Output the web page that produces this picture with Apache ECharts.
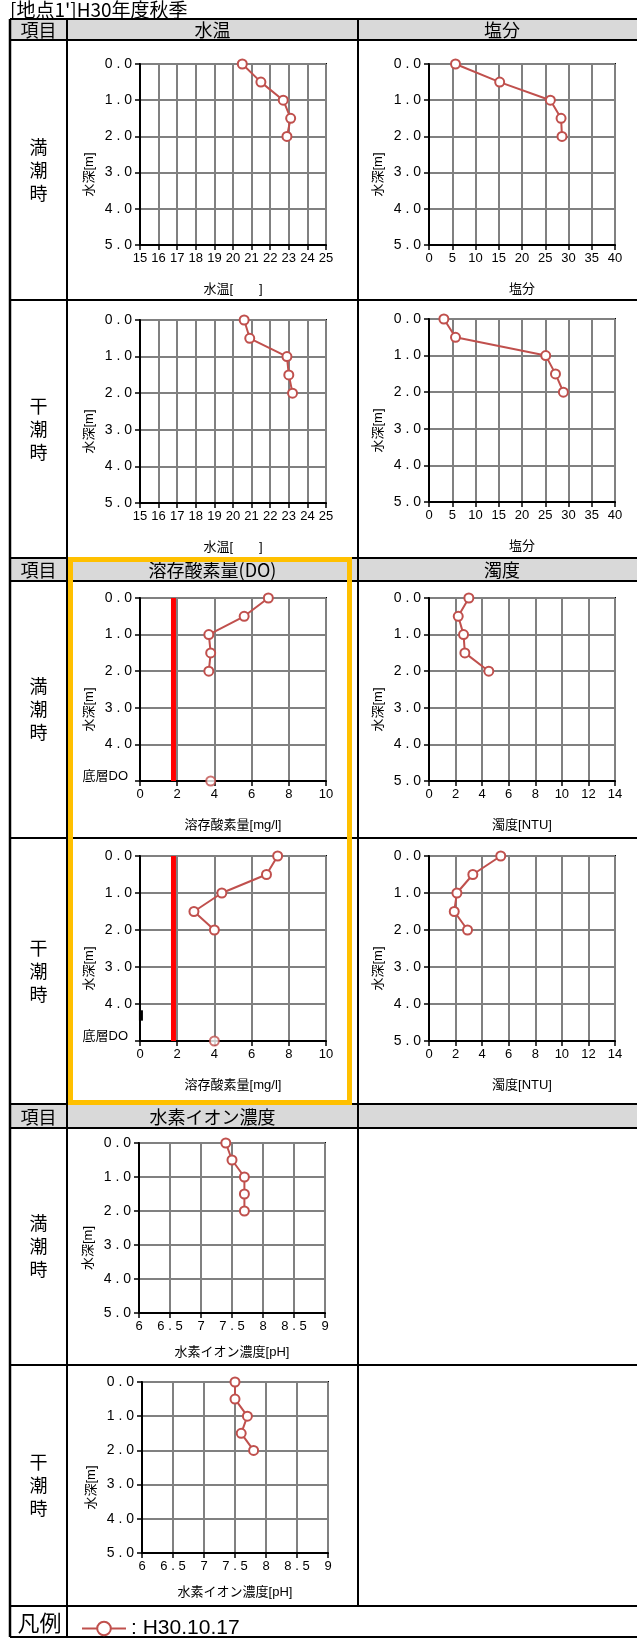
<!DOCTYPE html>
<html>
<head>
<meta charset="utf-8">
<script src="https://cdn.jsdelivr.net/npm/echarts@6/dist/echarts.min.js"></script>
<style>
html, body { margin: 0; padding: 0; background: #fff; }
#chart { width: 637px; height: 1644px; }
</style>
</head>
<body>
<div id="chart"></div>
<script>
// Depth profiles measured on H30.10.17 (autumn survey, station 1')
const depth = [0, 0.5, 1.0, 1.5, 2.0];
const tempHigh = [20.5, 21.5, 22.7, 23.1, 22.9];
const tempLow = [20.6, 20.9, 22.9, 23.0, 23.2];
const salHigh = [5.7, 15.2, 26.1, 28.4, 28.6];
const salLow = [3.2, 5.7, 25.1, 27.2, 28.9];
const doHigh = [6.9, 5.6, 3.7, 3.8, 3.7];
const doLow = [7.4, 6.8, 4.4, 2.9, 4.0];
const doBottomHigh = 3.8;
const doBottomLow = 4.0;
const doGuideValue = 1.8;
const turbHigh = [3.0, 2.2, 2.6, 2.7, 4.5];
const turbLow = [5.4, 3.3, 2.1, 1.9, 2.9];
const phHigh = [7.4, 7.5, 7.7, 7.7, 7.7];
const phLow = [7.5, 7.5, 7.7, 7.6, 7.8];
const bottomDepth = 5;
const axisStubDepth = [4.17, 4.45];
const surveyDate = 'H30.10.17';

const titleText = "[地点1']H30年度秋季";
const headerRows = [
  ['項目', '水温', '塩分'],
  ['項目', '溶存酸素量(DO)', '濁度'],
  ['項目', '水素イオン濃度', '']
];
const rowLabels = ['満\n潮\n時', '干\n潮\n時', '満\n潮\n時', '干\n潮\n時', '満\n潮\n時', '干\n潮\n時'];
const depthName = '水深[m]';

const FONT = "'Liberation Sans', 'Noto Sans CJK JP', sans-serif";
const JP = "'Noto Sans CJK JP', sans-serif";
const RED = '#C0504D';
const GRIDLINE = '#808080';

// Table geometry
const tbl = { left: 10, col1: 67, col2: 358, right: 646 };
const headerBands = [[19, 40], [558, 581], [1104, 1128]];
const rowBands = [[40, 300], [300, 558], [581, 838], [838, 1104], [1128, 1365], [1365, 1606]];
const legendBand = [1606, 1637];

const panels = [
  { box: [140, 64, 186, 181], x: [15, 25, 1], name: '水温[\u3000\u3000]', values: tempHigh },
  { box: [429, 64, 186, 181], x: [0, 40, 5], name: '塩分', values: salHigh },
  { box: [140, 320, 186, 183], x: [15, 25, 1], name: '水温[\u3000\u3000]', values: tempLow },
  { box: [429, 319, 186, 183], x: [0, 40, 5], name: '塩分', values: salLow },
  { box: [140, 598, 186, 183], x: [0, 10, 2], name: '溶存酸素量[mg/l]', values: doHigh, bottomDO: doBottomHigh },
  { box: [429, 598, 186, 183], x: [0, 14, 2], name: '濁度[NTU]', values: turbHigh },
  { box: [140, 856, 186, 185], x: [0, 10, 2], name: '溶存酸素量[mg/l]', values: doLow, bottomDO: doBottomLow, stub: true },
  { box: [429, 856, 186, 185], x: [0, 14, 2], name: '濁度[NTU]', values: turbLow },
  { box: [139, 1143, 186, 170], x: [6, 9, 0.5], name: '水素イオン濃度[pH]', values: phHigh, nameGap: 33 },
  { box: [142, 1382, 186, 171], x: [6, 9, 0.5], name: '水素イオン濃度[pH]', values: phLow, nameGap: 33 }
];

function spaced(s) { return s.indexOf('.') >= 0 ? s.split('').join(' ') : s; }

const grids = [], xAxes = [], yAxes = [], series = [];
panels.forEach((p, i) => {
  grids.push({
    left: p.box[0], top: p.box[1], width: p.box[2], height: p.box[3],
    show: true, borderColor: '#000', borderWidth: 2, backgroundColor: 'transparent',
    containLabel: false, outerBoundsMode: 'none'
  });
  xAxes.push({
    type: 'value', gridIndex: i, min: p.x[0], max: p.x[1], interval: p.x[2], position: 'bottom',
    axisLine: { show: true, onZero: false, lineStyle: { color: '#000', width: 2 } },
    axisTick: { show: true, length: 5, lineStyle: { color: '#000', width: 1.5 } },
    splitLine: { show: true, lineStyle: { color: GRIDLINE, width: 2 } },
    axisLabel: { color: '#000', fontSize: 13, fontFamily: FONT, margin: 7,
      formatter: v => spaced(String(v)) },
    name: p.name, nameLocation: 'middle', nameGap: p.nameGap || 38, nameMoveOverlap: false,
    nameTextStyle: { color: '#000', fontSize: 13, fontFamily: FONT }
  });
  yAxes.push({
    type: 'value', gridIndex: i, min: 0, max: bottomDepth, interval: 1, inverse: true,
    axisLine: { show: true, onZero: false, lineStyle: { color: '#000', width: 2 } },
    axisTick: { show: true, length: 5, lineStyle: { color: '#000', width: 1.5 } },
    splitLine: { show: true, lineStyle: { color: GRIDLINE, width: 2 } },
    axisLabel: {
      color: '#000', fontSize: 14, fontFamily: FONT, margin: 8,
      formatter: v => (p.bottomDO != null && v === bottomDepth) ? '{b|底層DO}' : spaced(v.toFixed(1)),
      rich: { b: { fontSize: 13, fontFamily: FONT, color: '#000', padding: [0, 4, 9, 0] } }
    },
    name: depthName, nameLocation: 'middle', nameGap: 44, nameMoveOverlap: false,
    nameTextStyle: { color: '#000', fontSize: 13, fontFamily: FONT, padding: [0, 40, 0, 0] }
  });
  if (p.bottomDO != null) {
    series.push({
      type: 'line', name: 'DO基準', xAxisIndex: i, yAxisIndex: i,
      data: [[doGuideValue, 0], [doGuideValue, bottomDepth]],
      symbol: 'none', lineStyle: { color: '#ff0000', width: 5 }, z: 4, silent: true, animation: false
    });
  }
  if (p.stub) {
    series.push({
      type: 'line', name: '軸', xAxisIndex: i, yAxisIndex: i,
      data: axisStubDepth.map(d => [0.05, d]),
      symbol: 'none', lineStyle: { color: '#000', width: 4 }, z: 4, silent: true, animation: false
    });
  }
  series.push({
    type: 'line', name: surveyDate, xAxisIndex: i, yAxisIndex: i,
    data: p.values.map((v, k) => [v, depth[k]]),
    symbol: 'emptyCircle', symbolSize: 9, clip: false,
    lineStyle: { color: RED, width: 2 },
    itemStyle: { color: RED, borderColor: RED, borderWidth: 2 },
    z: 5, animation: false
  });
  if (p.bottomDO != null) {
    series.push({
      type: 'scatter', name: '底層DO', xAxisIndex: i, yAxisIndex: i,
      data: [[p.bottomDO, bottomDepth]],
      symbol: 'emptyCircle', symbolSize: 9, clip: false,
      itemStyle: { color: RED, borderColor: RED, borderWidth: 2 },
      z: 6, animation: false
    });
  }
});

// Table frame drawn behind the plots
const g = [];
g.push({ type: 'text', left: 10, top: 0, style: { text: titleText, fill: '#000', font: '19px ' + JP } });
headerBands.forEach((b, r) => {
  g.push({ type: 'rect', shape: { x: tbl.left, y: b[0], width: tbl.right - tbl.left, height: b[1] - b[0] },
    style: { fill: '#d9d9d9' }, z: -1 });
  const mid = (b[0] + b[1]) / 2;
  const cx = [(tbl.left + tbl.col1) / 2, (tbl.col1 + tbl.col2) / 2, (tbl.col2 + tbl.right) / 2];
  headerRows[r].forEach((t, c) => {
    if (!t) return;
    g.push({ type: 'text', style: { text: t, x: cx[c], y: mid + 1, fill: '#000', font: '18px ' + JP,
      align: 'center', verticalAlign: 'middle', textAlign: 'center', textVerticalAlign: 'middle' } });
  });
});
rowBands.forEach((b, r) => {
  g.push({ type: 'text', style: { text: rowLabels[r], x: (tbl.left + tbl.col1) / 2, y: (b[0] + b[1]) / 2,
    fill: '#000', font: '18px ' + JP, lineHeight: 23,
    align: 'center', verticalAlign: 'middle', textAlign: 'center', textVerticalAlign: 'middle' } });
});
g.push({ type: 'text', style: { text: '凡例', x: (tbl.left + tbl.col1) / 2 + 1, y: (legendBand[0] + legendBand[1]) / 2 + 1,
  fill: '#000', font: '22px ' + JP, align: 'center', verticalAlign: 'middle', textAlign: 'center', textVerticalAlign: 'middle' } });

const hy = [19, 40, 300, 558, 581, 838, 1104, 1128, 1365, 1606, 1637];
hy.forEach(y => g.push({ type: 'line', shape: { x1: tbl.left, y1: y, x2: tbl.right, y2: y },
  style: { stroke: '#000', lineWidth: 2 } }));
g.push({ type: 'line', shape: { x1: tbl.left, y1: 19, x2: tbl.left, y2: 1637 }, style: { stroke: '#000', lineWidth: 2.5 } });
g.push({ type: 'line', shape: { x1: tbl.col1, y1: 19, x2: tbl.col1, y2: 1637 }, style: { stroke: '#000', lineWidth: 2 } });
g.push({ type: 'line', shape: { x1: tbl.col2, y1: 19, x2: tbl.col2, y2: 1606 }, style: { stroke: '#000', lineWidth: 2 } });
// Highlight frame around the dissolved oxygen block
g.push({ type: 'rect', shape: { x: 70.5, y: 559.5, width: 279, height: 543 },
  style: { fill: 'none', stroke: '#ffc000', lineWidth: 5 }, z: 10 });

const chart = echarts.init(document.getElementById('chart'), null, { renderer: 'canvas' });
chart.setOption({
  animation: false,
  backgroundColor: '#fff',
  textStyle: { fontFamily: FONT },
  grid: grids,
  xAxis: xAxes,
  yAxis: yAxes,
  series: series,
  graphic: { elements: g },
  legend: {
    data: [surveyDate], left: 76, top: 1613, itemWidth: 44, itemHeight: 17, selectedMode: false,
    formatter: ': {name}', textStyle: { color: '#000', fontSize: 21, fontFamily: FONT }
  }
});
</script>
</body>
</html>
